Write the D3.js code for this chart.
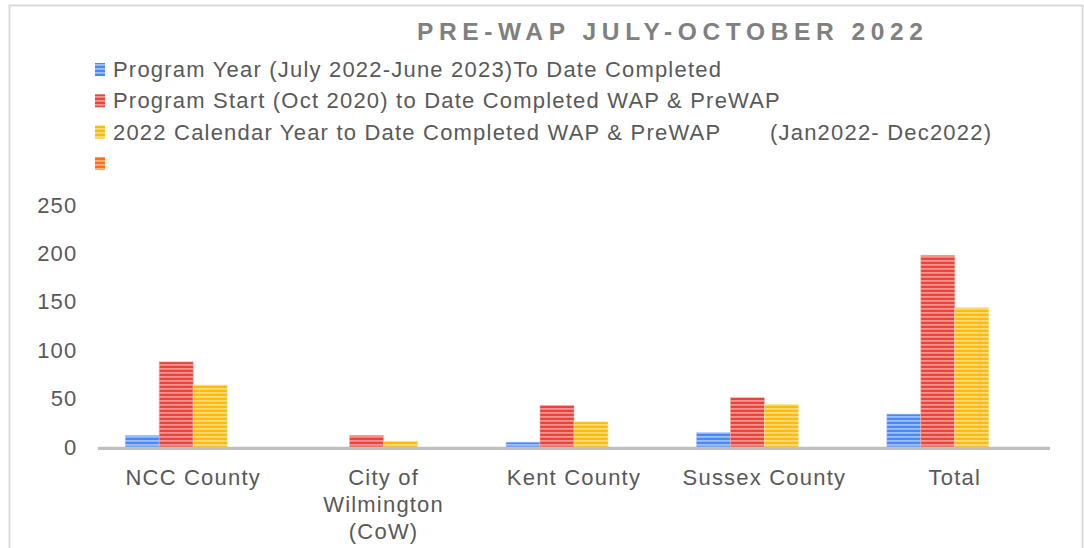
<!DOCTYPE html>
<html><head><meta charset="utf-8">
<script src="https://cdn.jsdelivr.net/npm/d3@7"></script>
<style>
html,body{margin:0;padding:0;background:#fff;}
svg{display:block;font-family:"Liberation Sans",Arial,sans-serif;}
</style></head>
<body><svg id="c" width="1084" height="548"></svg>
<script>
const title = "PRE-WAP JULY-OCTOBER 2022";
const categories = ["NCC County", "City of\nWilmington\n(CoW)", "Kent County", "Sussex County", "Total"];
const seriesNames = [
  "Program Year (July 2022-June 2023)To Date Completed",
  "Program Start (Oct 2020) to Date Completed WAP & PreWAP",
  "2022 Calendar Year to Date Completed WAP & PreWAP",
  ""
];
const legendExtra = ["", "", "(Jan2022- Dec2022)", ""];
const programYear = [12, 0, 5, 15, 34];
const programStart = [88, 12, 43, 51, 198];
const calendarYear = [64, 6, 26, 44, 144];
const fourthSeries = [null, null, null, null, null];
const yTicks = [0, 50, 100, 150, 200, 250];
const colors = ["#4a89f3", "#e9443b", "#fbbc09", "#ff6d1a"];
const lightColors = ["#b3cefb", "#f6aaa5", "#fde29a", "#ffbf99"];

const seriesValues = [programYear, programStart, calendarYear, fourthSeries];
const FS = 22, LS = 1.2;

const svg = d3.select("#c");

// frame
svg.append("path").attr("d","M9.5,548 V5.5 H1082.5 V548")
  .attr("fill","none").attr("stroke","#d9d9d9").attr("stroke-width",2);

// patterns
const defs = svg.append("defs");
colors.forEach((c,i)=>{
  const p = defs.append("pattern").attr("id","pat"+i).attr("patternUnits","userSpaceOnUse")
    .attr("width",8).attr("height",4);
  p.append("rect").attr("width",8).attr("height",4).attr("fill",c);
  p.append("rect").attr("y",0.2).attr("width",8).attr("height",1.4).attr("fill",lightColors[i]);
});

const x0 = d3.scaleBand().domain(d3.range(categories.length)).range([98,1050])
  .paddingInner(0.2857).paddingOuter(0.1429);
const x1 = d3.scaleBand().domain(d3.range(seriesValues.length)).range([0,x0.bandwidth()]);
const y = d3.scaleLinear().domain([0,250]).range([447,205]);

// title
svg.append("text").attr("x",670).attr("y",40).attr("text-anchor","middle")
  .attr("font-size",24.5).attr("font-weight","bold").attr("fill","#808080")
  .attr("textLength",506).attr("lengthAdjust","spacing").text(title);

// legend
const lg = svg.append("g");
seriesNames.forEach((n,i)=>{
  const cy = 69 + i*31.3;
  lg.append("rect").attr("x",95).attr("y",cy-6).attr("width",10).attr("height",13)
    .attr("fill","url(#pat"+i+")");
  if(n) lg.append("text").attr("x",113).attr("y",cy+8).attr("font-size",FS)
    .attr("letter-spacing",LS).attr("fill","#595959").text(n);
  if(legendExtra[i]) lg.append("text").attr("x",770).attr("y",cy+8).attr("font-size",FS)
    .attr("letter-spacing",LS).attr("fill","#595959").text(legendExtra[i]);
});

// y axis labels
const yAxis = d3.axisLeft(y).tickValues(yTicks).tickSize(0).tickPadding(0);
const ya = svg.append("g").attr("transform","translate(77.5,0)").call(yAxis);
ya.select(".domain").remove();
ya.selectAll("text").attr("font-size",FS).attr("letter-spacing",LS).attr("fill","#595959")
  .attr("font-family","'Liberation Sans',Arial,sans-serif");

// bars
categories.forEach((c,ci)=>{
  const g = svg.append("g").attr("transform",`translate(${x0(ci)},0)`);
  seriesValues.forEach((vals,si)=>{
    const v = vals[ci];
    if(v==null || v===0) return;
    g.append("rect").attr("x",x1(si)).attr("y",y(v)).attr("width",x1.bandwidth())
      .attr("height",y(0)-y(v)).attr("fill","url(#pat"+si+")")
      .attr("stroke",lightColors[si]).attr("stroke-width",0.8).attr("stroke-opacity",0.7);
  });
});

// x axis
const xAxis = d3.axisBottom(x0).tickSize(0).tickFormat(()=> "");
const xa = svg.append("g").attr("transform","translate(0,448.3)").call(xAxis);
xa.select(".domain").attr("stroke","#bfbfbf").attr("stroke-width",3.3).attr("d","M98,0H1050");

// x labels
categories.forEach((c,ci)=>{
  const lines = c.split("\n");
  const t = svg.append("text").attr("text-anchor","middle").attr("font-size",FS)
    .attr("letter-spacing",LS).attr("fill","#595959");
  lines.forEach((l,li)=>{
    t.append("tspan").attr("x",x0(ci)+x0.bandwidth()/2).attr("y",485+li*27).text(l);
  });
});
</script></body></html>
